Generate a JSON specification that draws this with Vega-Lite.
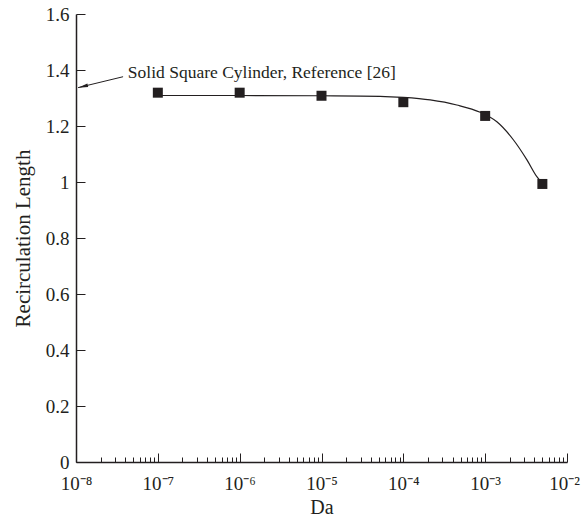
{
  "$schema": "https://vega.github.io/schema/vega-lite/v6.json",
  "width": 491,
  "height": 448,
  "autosize": "none",
  "padding": {"left": 76, "top": 14, "right": 14, "bottom": 60},
  "background": "white",
  "config": {
    "view": {"stroke": null},
    "font": "Liberation Serif"
  },
  "datasets": {
    "points": [
      {"Da": 1e-7, "L": 1.319},
      {"Da": 1e-6, "L": 1.319},
      {"Da": 1e-5, "L": 1.308},
      {"Da": 1e-4, "L": 1.285},
      {"Da": 1e-3, "L": 1.236},
      {"Da": 5e-3, "L": 0.993}
    ],
    "curve": [
      {"Da": 1e-7, "L": 1.309},
      {"Da": 1e-6, "L": 1.309},
      {"Da": 1e-5, "L": 1.308},
      {"Da": 5.2e-5, "L": 1.306},
      {"Da": 1e-4, "L": 1.302},
      {"Da": 2.13e-4, "L": 1.293},
      {"Da": 4.5e-4, "L": 1.275},
      {"Da": 8.7e-4, "L": 1.249},
      {"Da": 1.39e-3, "L": 1.215},
      {"Da": 2.22e-3, "L": 1.15},
      {"Da": 3.24e-3, "L": 1.079},
      {"Da": 4.28e-3, "L": 1.019},
      {"Da": 5e-3, "L": 0.995}
    ],
    "annot": [
      {"x1": 3.76e-8, "y1": 1.376, "x2": 1.06e-8, "y2": 1.337, "label": "Solid Square Cylinder, Reference [26]", "tx": 4.3e-8, "ty": 1.371}
    ]
  },
  "layer": [
    {
      "data": {"name": "curve"},
      "mark": {"type": "line", "interpolate": "monotone", "color": "#231f20", "strokeWidth": 1.2},
      "encoding": {
        "x": {
          "field": "Da", "type": "quantitative",
          "scale": {"type": "log", "domain": [1e-8, 1e-2], "nice": false},
          "axis": {
            "title": "Da",
            "titleFont": "Liberation Serif", "titleFontSize": 20, "titleFontWeight": "normal", "titleColor": "#231f20",
            "titlePadding": 0,
            "values": [1e-8,2e-8,3e-8,4e-8,5e-8,6e-8,7e-8,8e-8,9e-8,1e-7,2e-7,3e-7,4e-7,5e-7,6e-7,7e-7,8e-7,9e-7,1e-6,2e-6,3e-6,4e-6,5e-6,6e-6,7e-6,8e-6,9e-6,1e-5,2e-5,3e-5,4e-5,5e-5,6e-5,7e-5,8e-5,9e-5,1e-4,2e-4,3e-4,4e-4,5e-4,6e-4,7e-4,8e-4,9e-4,1e-3,2e-3,3e-3,4e-3,5e-3,6e-3,7e-3,8e-3,9e-3,1e-2],
            "labelExpr": "abs(log(datum.value)/LN10 - round(log(datum.value)/LN10)) < 1e-6 ? '10' + ['⁻⁸','⁻⁷','⁻⁶','⁻⁵','⁻⁴','⁻³','⁻²'][round(log(datum.value)/LN10)+8] : ''",
            "labelFont": "Liberation Serif", "labelFontSize": 19, "labelColor": "#231f20",
            "labelPadding": 21, "labelFlush": false, "labelOverlap": false,
            "labelOffset": {"condition": {"test": "datum.value > 0.0095", "value": -3}, "value": 0},
            "tickSize": {"condition": {"test": "abs(log(datum.value)/LN10 - round(log(datum.value)/LN10)) < 1e-6", "value": -9}, "value": -5},
            "tickColor": "#231f20", "tickWidth": 1,
            "domainColor": "#231f20", "domainWidth": 1.5,
            "grid": false
          }
        },
        "y": {
          "field": "L", "type": "quantitative",
          "scale": {"domain": [0, 1.6], "nice": false},
          "axis": {
            "title": "Recirculation Length",
            "titleFont": "Liberation Serif", "titleFontSize": 21, "titleFontWeight": "normal", "titleColor": "#231f20",
            "titlePadding": 12,
            "values": [0,0.05,0.1,0.15,0.2,0.25,0.3,0.35,0.4,0.45,0.5,0.55,0.6,0.65,0.7,0.75,0.8,0.85,0.9,0.95,1,1.05,1.1,1.15,1.2,1.25,1.3,1.35,1.4,1.45,1.5,1.55,1.6],
            "labelExpr": "abs(datum.value*5 - round(datum.value*5)) < 1e-6 ? format(datum.value, '~g') : ''",
            "labelFont": "Liberation Serif", "labelFontSize": 19, "labelColor": "#231f20",
            "labelPadding": 16, "labelFlush": false, "labelOverlap": false,
            "tickSize": {"condition": {"test": "abs(datum.value*5 - round(datum.value*5)) < 1e-6", "value": -9}, "value": -5},
            "tickColor": "#231f20", "tickWidth": 1,
            "domainColor": "#231f20", "domainWidth": 1.5,
            "grid": false
          }
        }
      }
    },
    {
      "data": {"name": "points"},
      "mark": {"type": "point", "shape": "square", "filled": true, "size": 100, "color": "#231f20", "opacity": 1},
      "encoding": {
        "x": {"field": "Da", "type": "quantitative"},
        "y": {"field": "L", "type": "quantitative"}
      }
    },
    {
      "data": {"name": "annot"},
      "mark": {"type": "rule", "color": "#231f20", "strokeWidth": 1},
      "encoding": {
        "x": {"field": "x1", "type": "quantitative"},
        "y": {"field": "y1", "type": "quantitative"},
        "x2": {"field": "x2"},
        "y2": {"field": "y2"}
      }
    },
    {
      "data": {"name": "annot"},
      "mark": {"type": "point", "shape": "M0,0L2,-0.35L2,0.35Z", "filled": true, "size": 100, "color": "#231f20", "opacity": 1, "angle": -13.7},
      "encoding": {
        "x": {"field": "x2", "type": "quantitative"},
        "y": {"field": "y2", "type": "quantitative"}
      }
    },
    {
      "data": {"name": "annot"},
      "mark": {"type": "text", "align": "left", "baseline": "alphabetic", "font": "Liberation Serif", "fontSize": 17.5, "color": "#231f20"},
      "encoding": {
        "x": {"field": "tx", "type": "quantitative"},
        "y": {"field": "ty", "type": "quantitative"},
        "text": {"field": "label"}
      }
    }
  ]
}
